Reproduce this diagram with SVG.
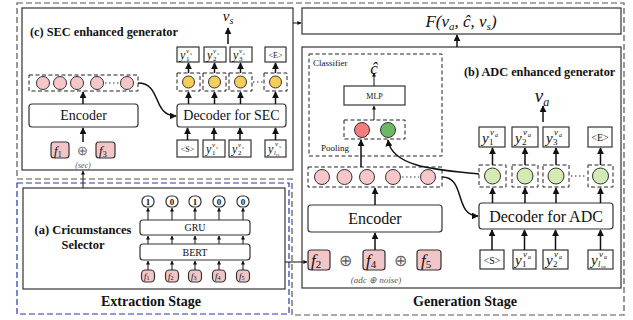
<svg xmlns="http://www.w3.org/2000/svg" width="633" height="320" viewBox="0 0 633 320" font-family="'Liberation Serif', serif">
<defs>
<marker id="ah" viewBox="0 0 10 10" refX="9" refY="5" markerWidth="7" markerHeight="7" orient="auto" markerUnits="userSpaceOnUse"><path d="M0,0 L10,5 L0,10 z" fill="#111"/></marker>
<marker id="as" viewBox="0 0 10 10" refX="9" refY="5" markerWidth="4" markerHeight="4" orient="auto" markerUnits="userSpaceOnUse"><path d="M0,0 L10,5 L0,10 z" fill="#111"/></marker>
<style>
.box{fill:#fff;stroke:#333;stroke-width:1.2}
.dash{fill:none;stroke:#222;stroke-width:1;stroke-dasharray:4 2.5}
.pk{fill:#F2C6C6;stroke:#333;stroke-width:1.2}
text{font-family:'Liberation Serif',serif;fill:#111}
.i{font-style:italic}
.b{font-weight:bold}
.c{text-anchor:middle}
.arr{stroke:#111;stroke-width:1.5;fill:none;marker-end:url(#ah)}
.arrs{stroke:#111;stroke-width:1;fill:none;marker-end:url(#as)}
.dots{stroke:#333;stroke-width:1.2;stroke-dasharray:1.5 2.5}
.cp{fill:#F7C6C8;stroke:#333;stroke-width:1}
.cy{fill:#F8CE5A;stroke:#333;stroke-width:1}
.cg{fill:#D4EAB4;stroke:#333;stroke-width:1}
</style>
</defs>
<rect width="633" height="320" fill="#fff"/>

<g id="frames">
<path d="M17,3 H624 V315 H292 V179 H17 Z" fill="none" stroke="#555" stroke-width="1.2" stroke-dasharray="6 3"/>
<rect x="17" y="183" width="272" height="131" fill="none" stroke="#2638B0" stroke-width="1.2" stroke-dasharray="6 3"/>
</g>

<g id="sec">
<rect x="22" y="8" width="271" height="162" fill="#fff" stroke="#333" stroke-width="1.2"/>
<text class="b" x="30" y="36" font-size="12.3">(c) SEC enhanced generator</text>
<rect class="dash" x="29" y="75" width="109" height="16"/>
<circle class="cp" cx="43" cy="83" r="6.5"/>
<circle class="cp" cx="60" cy="83" r="6.5"/>
<circle class="cp" cx="77" cy="83" r="6.5"/>
<circle class="cp" cx="97" cy="83" r="6.5"/>
<circle class="cp" cx="127" cy="83" r="6.5"/>
<line class="dots" x1="105" y1="83" x2="119" y2="83"/>
<rect class="box" x="29" y="104" width="109" height="23" rx="3"/>
<text class="c" x="83.5" y="120" font-size="14">Encoder</text>
<rect class="pk" x="51" y="142" width="18" height="16" rx="3"/>
<text class="i" x="54" y="155" font-size="13">f<tspan font-size="8" font-style="normal" dy="2">1</tspan></text>
<text class="c" x="82" y="155" font-size="13" style="fill:#666">⊕</text>
<rect class="pk" x="96" y="142" width="19" height="16" rx="3"/>
<text class="i" x="99" y="155" font-size="13">f<tspan font-size="8" font-style="normal" dy="2">3</tspan></text>
<text class="i c" x="83" y="168" font-size="8" style="fill:#555">(sec)</text>

<text class="i c" x="228" y="21" font-size="15">v<tspan font-size="10" dy="3">s</tspan></text>
<rect class="box" x="177" y="47" width="22" height="15"/>
<rect class="box" x="204" y="47" width="22" height="15"/>
<rect class="box" x="230" y="47" width="22" height="15"/>
<rect class="box" x="265" y="47" width="21" height="15"/>
<text class="i" x="180" y="59" font-size="12">y</text><text x="186" y="61" font-size="7">1</text><text class="i" x="186" y="53" font-size="7">v</text><text class="i" x="190" y="55" font-size="5">s</text>
<text class="i" x="207" y="59" font-size="12">y</text><text x="213" y="61" font-size="7">2</text><text class="i" x="213" y="53" font-size="7">v</text><text class="i" x="217" y="55" font-size="5">s</text>
<text class="i" x="233" y="59" font-size="12">y</text><text x="239" y="61" font-size="7">3</text><text class="i" x="239" y="53" font-size="7">v</text><text class="i" x="243" y="55" font-size="5">s</text>
<text class="c" x="275.5" y="58" font-size="8">&lt;E&gt;</text>
<rect class="dash" x="177" y="73" width="23" height="18"/>
<rect class="dash" x="203" y="73" width="23" height="18"/>
<rect class="dash" x="229" y="73" width="23" height="18"/>
<rect class="dash" x="264" y="73" width="23" height="18"/>
<circle class="cy" cx="188.5" cy="82" r="6"/>
<circle class="cy" cx="214.5" cy="82" r="6"/>
<circle class="cy" cx="240.5" cy="82" r="6"/>
<circle class="cy" cx="275.5" cy="82" r="6"/>
<line class="dots" x1="253" y1="82" x2="263" y2="82"/>
<rect class="box" x="177" y="104" width="109" height="23" rx="3"/>
<text class="c" x="231.5" y="120" font-size="14">Decoder for SEC</text>
<rect class="box" x="177" y="140" width="21" height="17"/>
<rect class="box" x="203" y="140" width="22" height="17"/>
<rect class="box" x="229" y="140" width="22" height="17"/>
<rect class="box" x="265" y="140" width="21" height="17"/>
<text class="c" x="187.5" y="152" font-size="8">&lt;S&gt;</text>
<text class="i" x="206" y="153" font-size="12">y</text><text x="212" y="155" font-size="7">1</text><text class="i" x="212" y="147" font-size="7">v</text><text class="i" x="216" y="149" font-size="5">s</text>
<text class="i" x="232" y="153" font-size="12">y</text><text x="238" y="155" font-size="7">2</text><text class="i" x="238" y="147" font-size="7">v</text><text class="i" x="242" y="149" font-size="5">s</text>
<text class="i" x="268" y="153" font-size="12">y</text><text class="i" x="274" y="155" font-size="6">l</text><text class="i" x="276" y="156" font-size="4">vs</text><text class="i" x="275" y="146" font-size="7">v</text><text class="i" x="279" y="148" font-size="5">s</text>
</g>

<g id="final">
<rect class="box" x="302" y="8" width="319" height="26"/>
<text class="i c" x="461" y="27" font-size="17">F(v<tspan font-size="11" dy="3">a</tspan><tspan dy="-3">, ĉ, v</tspan><tspan font-size="11" dy="3">s</tspan><tspan dy="-3">)</tspan></text>
</g>

<g id="adc">
<rect x="302" y="47" width="319" height="241" fill="#fff" stroke="#333" stroke-width="1.2"/>
<rect class="dash" x="309" y="54" width="133" height="102"/>
<text x="313" y="66" font-size="9">Classifier</text>
<text class="i c" x="374" y="74" font-size="17">ĉ</text>
<rect class="box" x="344" y="86" width="61" height="19"/>
<text class="c" x="374.5" y="98.5" font-size="8">MLP</text>
<rect class="dash" x="344" y="120" width="61" height="19"/>
<circle cx="362" cy="130" r="7.5" fill="#F47C7C" stroke="#333" stroke-width="1"/>
<circle cx="388" cy="130" r="7.5" fill="#6DB866" stroke="#333" stroke-width="1"/>
<text x="321" y="151" font-size="9">Pooling</text>

<text class="b" x="464" y="76" font-size="12.3">(b) ADC enhanced generator</text>
<text class="i c" x="542" y="102" font-size="19">v<tspan font-size="12" dy="4">a</tspan></text>

<rect class="box" x="479" y="127" width="26" height="20"/>
<rect class="box" x="512" y="127" width="26" height="20"/>
<rect class="box" x="543" y="127" width="26" height="20"/>
<rect class="box" x="588" y="127" width="24" height="20"/>
<text class="i" x="482" y="143" font-size="15">y</text><text x="489" y="145" font-size="9">1</text><text class="i" x="490" y="135" font-size="9">v</text><text class="i" x="495" y="137" font-size="6">a</text>
<text class="i" x="515" y="143" font-size="15">y</text><text x="522" y="145" font-size="9">2</text><text class="i" x="523" y="135" font-size="9">v</text><text class="i" x="528" y="137" font-size="6">a</text>
<text class="i" x="546" y="143" font-size="15">y</text><text x="553" y="145" font-size="9">3</text><text class="i" x="554" y="135" font-size="9">v</text><text class="i" x="559" y="137" font-size="6">a</text>
<text class="c" x="600" y="141" font-size="10">&lt;E&gt;</text>

<rect class="dash" x="479" y="165" width="27" height="22"/>
<rect class="dash" x="512" y="165" width="26" height="22"/>
<rect class="dash" x="543" y="165" width="26" height="22"/>
<rect class="dash" x="588" y="165" width="25" height="22"/>
<circle class="cg" cx="492.5" cy="176" r="8"/>
<circle class="cg" cx="525" cy="176" r="8"/>
<circle class="cg" cx="556" cy="176" r="8"/>
<circle class="cg" cx="600.5" cy="176" r="8"/>
<line class="dots" x1="571" y1="176" x2="587" y2="176"/>

<rect class="box" x="479" y="203" width="134" height="26" rx="3"/>
<text class="c" x="546" y="222" font-size="16">Decoder for ADC</text>

<rect class="box" x="480" y="250" width="24" height="19"/>
<rect class="box" x="513" y="250" width="23" height="19"/>
<rect class="box" x="543" y="250" width="25" height="19"/>
<rect class="box" x="588" y="250" width="25" height="19"/>
<text class="c" x="492" y="264" font-size="10">&lt;S&gt;</text>
<text class="i" x="515" y="265" font-size="15">y</text><text x="522" y="267" font-size="9">1</text><text class="i" x="523" y="257" font-size="9">v</text><text class="i" x="528" y="259" font-size="6">a</text>
<text class="i" x="546" y="265" font-size="15">y</text><text x="553" y="267" font-size="9">2</text><text class="i" x="554" y="257" font-size="9">v</text><text class="i" x="559" y="259" font-size="6">a</text>
<text class="i" x="591" y="265" font-size="15">y</text><text class="i" x="598" y="267" font-size="8">l</text><text class="i" x="601" y="268" font-size="5">va</text><text class="i" x="599" y="257" font-size="9">v</text><text class="i" x="604" y="259" font-size="6">a</text>

<rect class="dash" x="308" y="167" width="134" height="20"/>
<circle class="cp" cx="322" cy="177" r="7.5"/>
<circle class="cp" cx="344.5" cy="177" r="7.5"/>
<circle class="cp" cx="367" cy="177" r="7.5"/>
<circle class="cp" cx="393" cy="177" r="7.5"/>
<circle class="cp" cx="428" cy="177" r="7.5"/>
<line class="dots" x1="402" y1="177" x2="419" y2="177"/>
<rect class="box" x="308" y="205" width="134" height="27" rx="3"/>
<text class="c" x="375" y="224" font-size="16">Encoder</text>
<rect class="pk" x="308" y="250" width="22" height="20" rx="3"/>
<text class="i" x="311" y="266" font-size="17">f<tspan font-size="11" font-style="normal" dy="2">2</tspan></text>
<text class="c" x="345" y="266" font-size="16" style="fill:#666">⊕</text>
<rect class="pk" x="363" y="250" width="22" height="20" rx="3"/>
<text class="i" x="366" y="266" font-size="17">f<tspan font-size="11" font-style="normal" dy="2">4</tspan></text>
<text class="c" x="400" y="266" font-size="16" style="fill:#666">⊕</text>
<rect class="pk" x="417" y="250" width="24" height="20" rx="3"/>
<text class="i" x="421" y="266" font-size="17">f<tspan font-size="11" font-style="normal" dy="2">5</tspan></text>
<text class="i c" x="376" y="283" font-size="9" style="fill:#555">(adc ⊕ noise)</text>
</g>

<g id="selector">
<rect x="23" y="188" width="262" height="101" fill="#fff" stroke="#333" stroke-width="1.2"/>
<text class="b c" x="83" y="234" font-size="12.5">(a) Cricumstances</text>
<text class="b c" x="83" y="249" font-size="12.5">Selector</text>
<rect x="142" y="196" width="12" height="11" rx="5" class="box"/>
<rect x="166" y="196" width="12" height="11" rx="5" class="box"/>
<rect x="189" y="196" width="12" height="11" rx="5" class="box"/>
<rect x="213" y="196" width="12" height="11" rx="5" class="box"/>
<rect x="237" y="196" width="12" height="11" rx="5" class="box"/>
<text class="b c" x="148" y="205" font-size="9">1</text>
<text class="b c" x="172" y="205" font-size="9">0</text>
<text class="b c" x="195" y="205" font-size="9">1</text>
<text class="b c" x="219" y="205" font-size="9">0</text>
<text class="b c" x="243" y="205" font-size="9">0</text>
<rect class="box" x="140" y="220" width="110" height="15" rx="3"/>
<text class="c" x="195" y="231" font-size="10">GRU</text>
<rect class="box" x="140" y="244" width="110" height="16" rx="3"/>
<text class="c" x="195" y="256" font-size="10">BERT</text>
<rect class="pk" x="141.5" y="270" width="13" height="12" rx="4"/>
<rect class="pk" x="165.5" y="270" width="13" height="12" rx="4"/>
<rect class="pk" x="188.5" y="270" width="13" height="12" rx="4"/>
<rect class="pk" x="212.5" y="270" width="13" height="12" rx="4"/>
<rect class="pk" x="236.5" y="270" width="13" height="12" rx="4"/>
<text class="i" x="144" y="279" font-size="9">f<tspan font-size="6" font-style="normal" dy="1">1</tspan></text>
<text class="i" x="168" y="279" font-size="9">f<tspan font-size="6" font-style="normal" dy="1">2</tspan></text>
<text class="i" x="191" y="279" font-size="9">f<tspan font-size="6" font-style="normal" dy="1">3</tspan></text>
<text class="i" x="215" y="279" font-size="9">f<tspan font-size="6" font-style="normal" dy="1">4</tspan></text>
<text class="i" x="239" y="279" font-size="9">f<tspan font-size="6" font-style="normal" dy="1">5</tspan></text>
</g>

<g id="stage-labels">
<text class="b c" x="151" y="306" font-size="14">Extraction Stage</text>
<text class="b c" x="465" y="306" font-size="14">Generation Stage</text>
</g>

<g id="connectors">
<line class="arr" x1="83" y1="142" x2="83" y2="128"/>
<line class="arr" x1="83" y1="104" x2="83" y2="92"/>
<path class="arr" d="M138,83 C162,83 152,116 176,116"/>
<line class="arr" x1="188.5" y1="73" x2="188.5" y2="63"/>
<line class="arr" x1="214.5" y1="73" x2="214.5" y2="63"/>
<line class="arr" x1="240.5" y1="73" x2="240.5" y2="63"/>
<line class="arr" x1="275.5" y1="73" x2="275.5" y2="63"/>
<line class="arr" x1="188.5" y1="104" x2="188.5" y2="92"/>
<line class="arr" x1="214.5" y1="104" x2="214.5" y2="92"/>
<line class="arr" x1="240.5" y1="104" x2="240.5" y2="92"/>
<line class="arr" x1="275.5" y1="104" x2="275.5" y2="92"/>
<line class="arr" x1="187.5" y1="140" x2="187.5" y2="128"/>
<line class="arr" x1="214" y1="140" x2="214" y2="128"/>
<line class="arr" x1="240" y1="140" x2="240" y2="128"/>
<line class="arr" x1="275.5" y1="140" x2="275.5" y2="128"/>
<line class="arr" x1="228" y1="44" x2="228" y2="28"/>
<line class="arrs" x1="293" y1="23" x2="301" y2="23"/>
<line class="arr" x1="457" y1="47" x2="457" y2="35"/>
<line class="arrs" x1="83" y1="188" x2="83" y2="171"/>
<line class="arrs" x1="285" y1="262" x2="307" y2="262"/>
<line class="arrs" x1="148" y1="220" x2="148" y2="208"/>
<line class="arrs" x1="172" y1="220" x2="172" y2="208"/>
<line class="arrs" x1="195" y1="220" x2="195" y2="208"/>
<line class="arrs" x1="219" y1="220" x2="219" y2="208"/>
<line class="arrs" x1="243" y1="220" x2="243" y2="208"/>
<line class="arrs" x1="148" y1="244" x2="148" y2="236"/>
<line class="arrs" x1="172" y1="244" x2="172" y2="236"/>
<line class="arrs" x1="195" y1="244" x2="195" y2="236"/>
<line class="arrs" x1="219" y1="244" x2="219" y2="236"/>
<line class="arrs" x1="243" y1="244" x2="243" y2="236"/>
<line class="arrs" x1="148" y1="270" x2="148" y2="261"/>
<line class="arrs" x1="172" y1="270" x2="172" y2="261"/>
<line class="arrs" x1="195" y1="270" x2="195" y2="261"/>
<line class="arrs" x1="219" y1="270" x2="219" y2="261"/>
<line class="arrs" x1="243" y1="270" x2="243" y2="261"/>
<line class="arrs" x1="374" y1="86" x2="374" y2="73"/>
<line class="arrs" x1="374" y1="120" x2="374" y2="106"/>
<line class="arr" x1="361" y1="167" x2="361" y2="140"/>
<path class="arr" d="M479,174 C440,170 392,168 388,140"/>
<line class="arr" x1="375" y1="250" x2="375" y2="233"/>
<line class="arr" x1="375" y1="205" x2="375" y2="188"/>
<path class="arr" d="M442,177 C466,177 454,216 478,216"/>
<line class="arr" x1="543" y1="122" x2="543" y2="106"/>
<line class="arr" x1="492.5" y1="165" x2="492.5" y2="148"/>
<line class="arr" x1="525" y1="165" x2="525" y2="148"/>
<line class="arr" x1="556" y1="165" x2="556" y2="148"/>
<line class="arr" x1="600.5" y1="165" x2="600.5" y2="148"/>
<line class="arr" x1="492.5" y1="203" x2="492.5" y2="188"/>
<line class="arr" x1="525" y1="203" x2="525" y2="188"/>
<line class="arr" x1="556" y1="203" x2="556" y2="188"/>
<line class="arr" x1="600.5" y1="203" x2="600.5" y2="188"/>
<line class="arr" x1="492" y1="250" x2="492" y2="230"/>
<line class="arr" x1="524.5" y1="250" x2="524.5" y2="230"/>
<line class="arr" x1="555.5" y1="250" x2="555.5" y2="230"/>
<line class="arr" x1="600.5" y1="250" x2="600.5" y2="230"/>
</g>
</svg>
